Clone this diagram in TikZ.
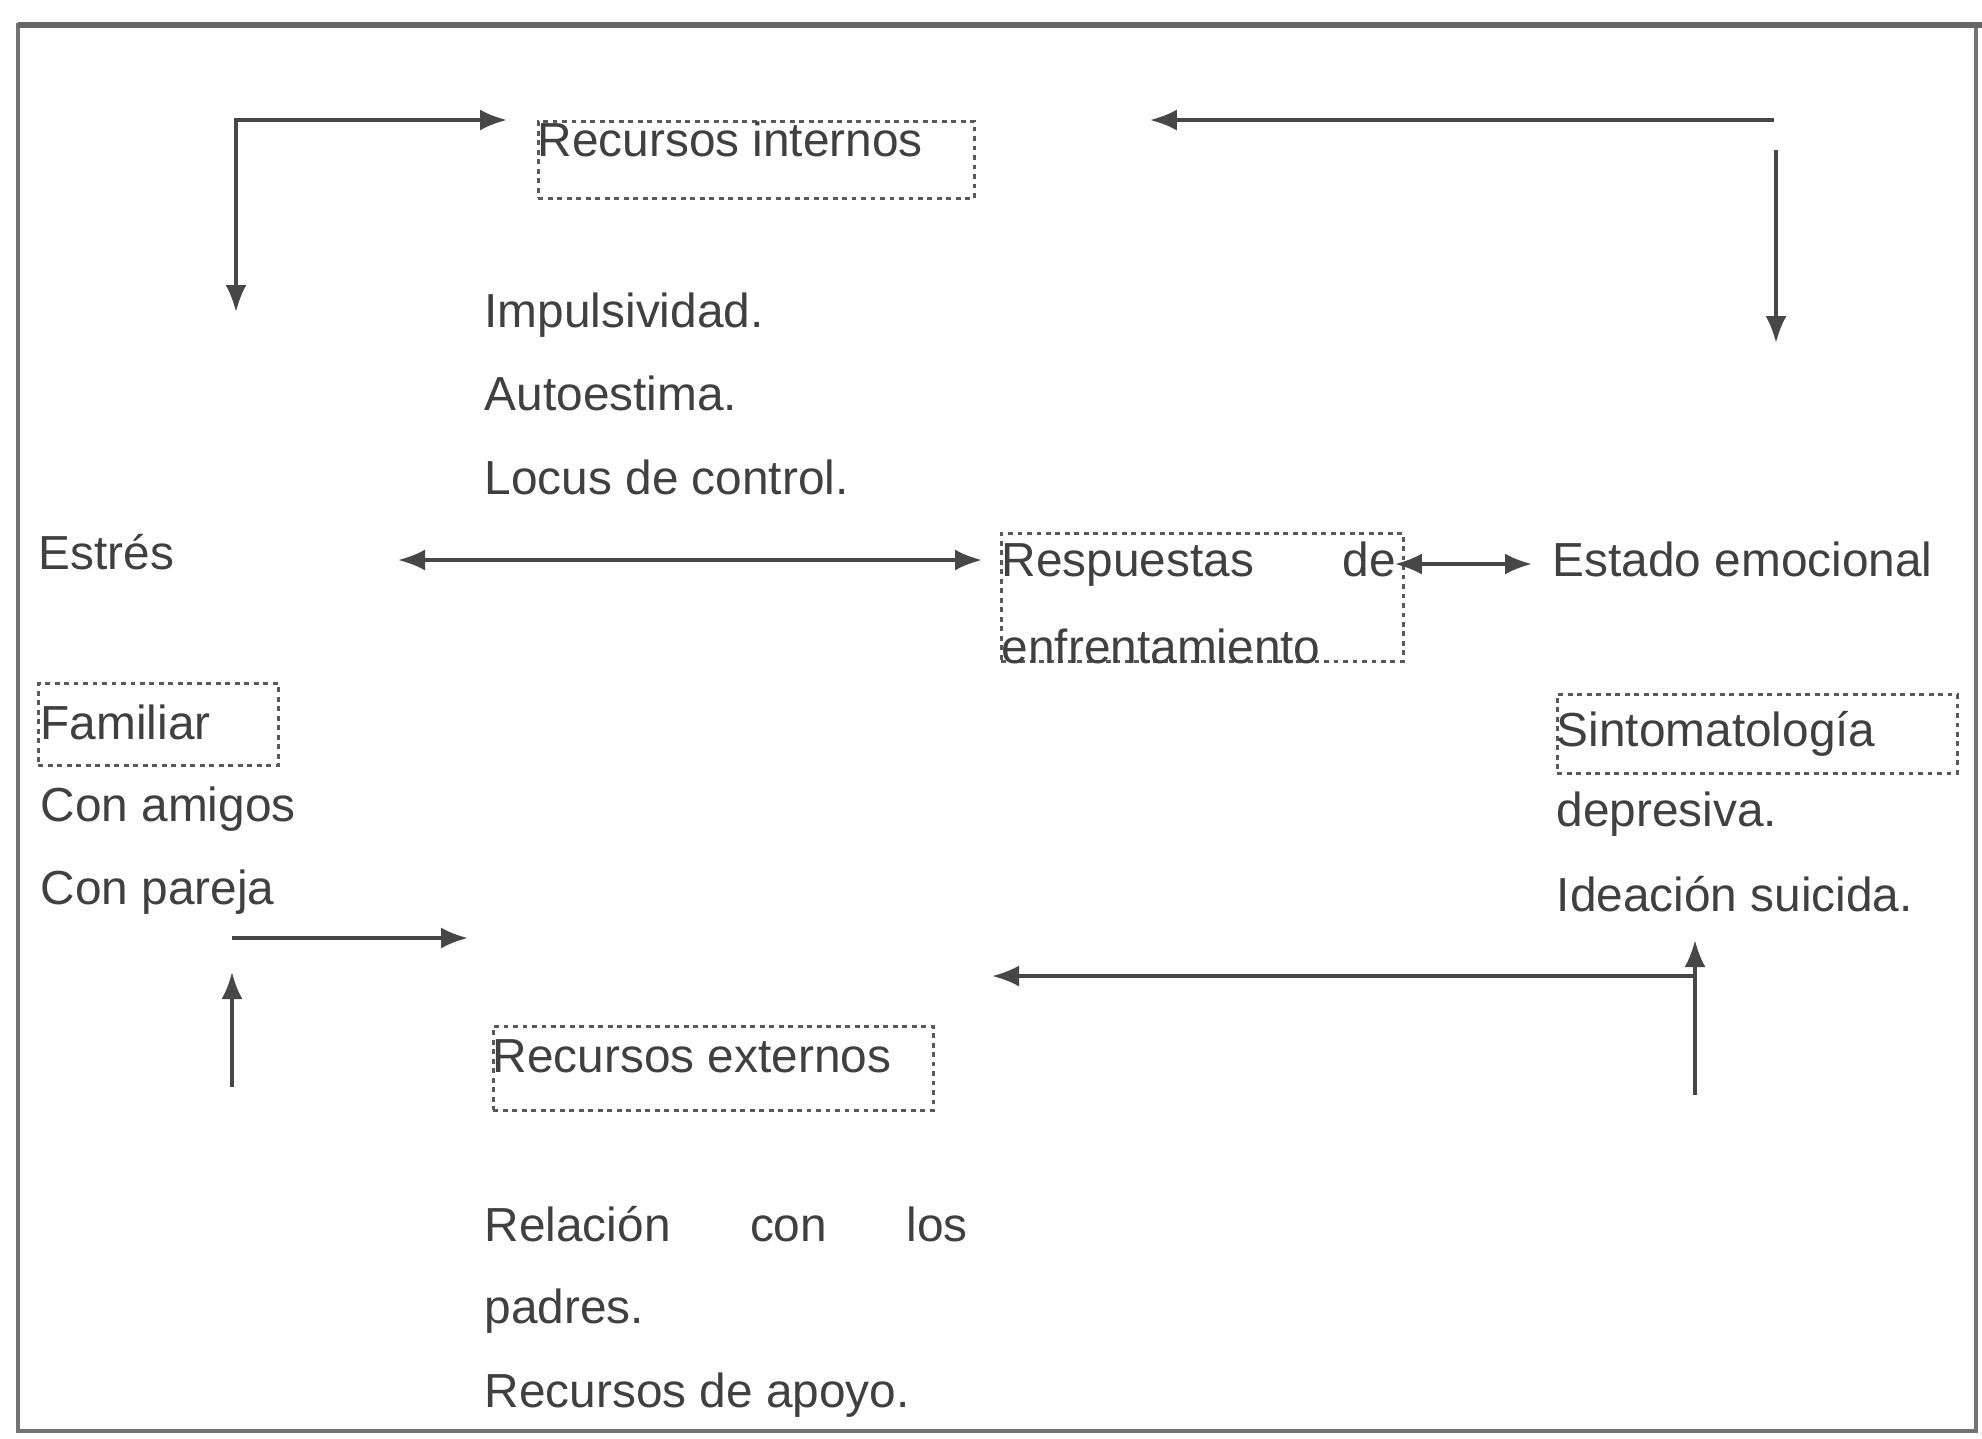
\documentclass[tikz,border=0pt]{standalone}
\usepackage{fontspec}
\setmainfont{Liberation Sans}
\usetikzlibrary{arrows.meta}
\begin{document}
\begin{tikzpicture}[x=0.1mm,y=-0.1mm,>={Latex[length=2.7mm,width=2.1mm]}]
\tikzstyle{txt}=[inner sep=0pt,anchor=west,yshift=-0.5mm,text=black!75,font=\fontsize{13.6pt}{16pt}\selectfont,text height=3.3mm,text depth=0.9mm]
\tikzstyle{dbox}=[draw=black!65,line width=0.8pt,dash pattern=on 1.4pt off 1.3pt,inner sep=0pt,anchor=north west]
\tikzstyle{arr}=[draw=black!72,line width=1pt,->]
\tikzstyle{darr}=[arr,<->]

\useasboundingbox (0,0) rectangle (1982,1438);
\fill[white] (0,0) rectangle (1982,1438);

%Frame
\draw[black!55,line width=1.2pt] (18,25) rectangle (1976,1431);
\draw[black!60,line width=1.8pt] (18,25) -- (1982,25);

%dashed boxes
\node[dbox,minimum width=43.6mm,minimum height=7.7mm] (intbox)  at (537,120)  {};
\node[dbox,minimum width=40.2mm,minimum height=12.8mm] (respbox) at (1000,532) {};
\node[dbox,minimum width=24mm,minimum height=8.2mm]   (famibox) at (37,682)   {};
\node[dbox,minimum width=40mm,minimum height=7.9mm]   (sintbox) at (1556,693) {};
\node[dbox,minimum width=44mm,minimum height=8.4mm]   (extbox)  at (492,1025) {};

%internal resources
\node[txt] (internos) at (537,139) {Recursos internos};
\node[txt] (impuls)   at (484,310) {Impulsividad.};
\node[txt] (autoest)  at (484,393) {Autoestima.};
\node[txt] (locus)    at (484,477) {Locus de control.};

%middle row
\node[txt] (estres)  at (38,552)   {Estrés};
\node[txt] (resp1)   at (1001,559) {\hbox to 39.4mm{Respuestas\hfill de}};
\node[txt] (resp2)   at (1001,646) {enfrentamiento};
\node[txt] (estado)  at (1552,559) {Estado emocional};

%stress sources
\node[txt] (familiar) at (40,722) {Familiar};
\node[txt] (amigos)   at (40,804) {Con amigos};
\node[txt] (pareja)   at (40,887) {Con pareja};

%emotional state
\node[txt] (sintoma)  at (1556,729) {Sintomatología};
\node[txt] (depres)   at (1556,809) {depresiva.};
\node[txt] (ideacion) at (1556,894) {Ideación suicida.};

%external resources
\node[txt] (externos) at (492,1055) {Recursos externos};
\node[txt] (relacion) at (484,1224) {\hbox to 48.3mm{Relación\hfill con\hfill los}};
\node[txt] (padres)   at (484,1306) {padres.};
\node[txt] (apoyo)    at (484,1390) {Recursos de apoyo.};

%free ends
\coordinate (tlcorner) at (236,120);
\coordinate (tldown)   at (236,312);
\coordinate (trcorner) at (1774,120);
\coordinate (trtop)    at (1776,150);
\coordinate (trdown)   at (1776,343);
\coordinate (estresR)  at (398,560);
\coordinate (blcorner) at (232,938);
\coordinate (blright)  at (468,938);
\coordinate (blbottom) at (232,1087);
\coordinate (bltop)    at (232,972);
\coordinate (brbottom) at (1695,1095);
\coordinate (brtop)    at (1695,940);
\coordinate (brjoin)   at (1695,976);
\coordinate (brleft)   at (992,976);

% connections
\draw[darr] (tldown) -- (tlcorner) -- ([xshift=-3mm]intbox.north west);
\draw[arr] (trcorner) -- ([xshift=17.4mm]intbox.north east);
\draw[arr] (trtop) -- (trdown);

\draw[darr,shorten >=1.8mm] (estresR) -- (estresR -| respbox.west);
\draw[darr] ([xshift=-1mm]respbox.east |- estado.west) -- ([xshift=-2mm]estado.west);

\draw[arr] (blcorner) -- (blright);
\draw[arr] (blbottom) -- (bltop);

\draw[arr] (brbottom) -- (brtop);
\draw[arr] (brjoin) -- (brleft);

\end{tikzpicture}
\end{document}
